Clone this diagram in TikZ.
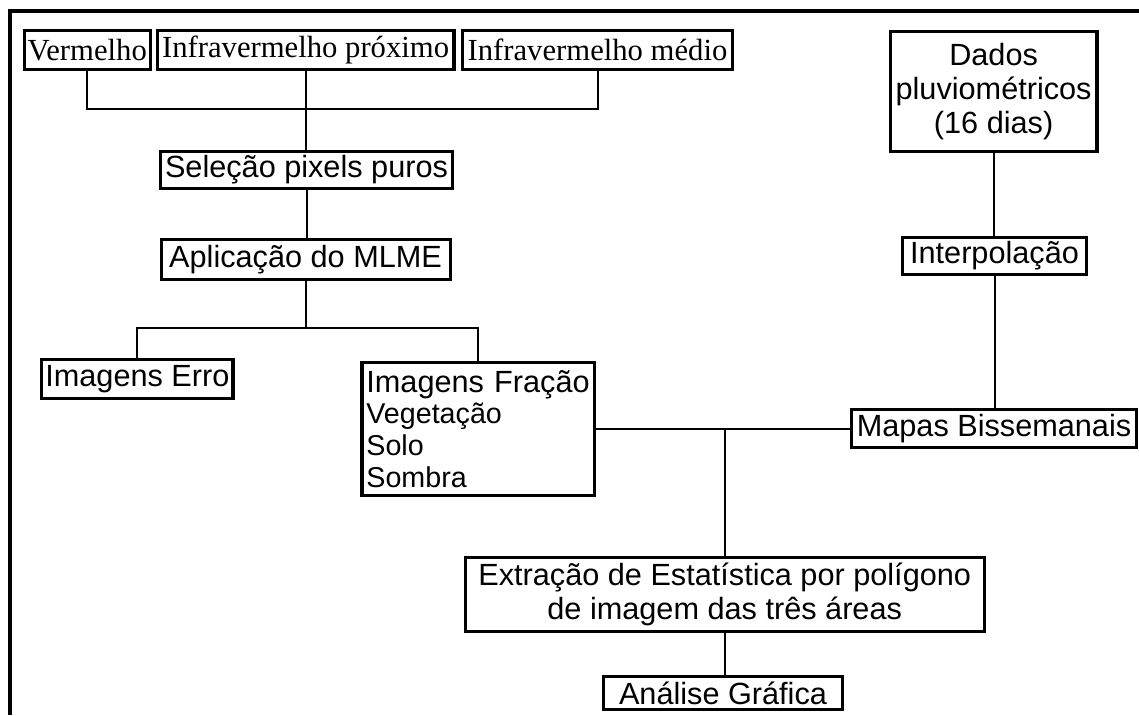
\documentclass[tikz,border=0pt]{standalone}
\usepackage{fontspec}
\setmainfont{Liberation Serif}
\setsansfont{Liberation Sans}
\begin{document}
\begin{tikzpicture}[x=0.75pt,y=-0.75pt,
  box/.style={draw, line width=2.4pt, inner sep=0pt, align=center,
    font=\sffamily\fontsize{23}{25.5}\selectfont},
  sbox/.style={box, font=\rmfamily\fontsize{23}{25}\selectfont},
  link/.style={line width=1.5pt},
  frame/.style={line width=3pt}]
\useasboundingbox (0,0) rectangle (1139,715);

% outer frame
\draw[frame] (10,715) -- (10,11.3) -- (1139,11.3);

% top row
\node[sbox, minimum width=94.5pt, minimum height=29.25pt] (verm) at (87.2,50) {Vermelho};
\node[sbox, minimum width=222.5pt, minimum height=29.25pt] (infp) at (305.6,50) {Infravermelho próximo};
\node[sbox, minimum width=202.5pt, minimum height=29.25pt] (infm) at (597.5,50) {Infravermelho médio};

% left chain
\node[box, minimum width=219.4pt, minimum height=27.75pt] (sel) at (306.5,170) {Seleção pixels puros};
\node[box, minimum width=216.75pt, minimum height=30pt] (apl) at (305.6,259.5) {Aplicação do MLME};
\node[box, minimum width=143.5pt, minimum height=29.25pt] (erro) at (137.4,379) {Imagens Erro};
\node[box, minimum width=174.6pt, minimum height=99.75pt, text width=168pt, align=left,
  font=\sffamily\fontsize{23}{23.8}\selectfont] (frac) at (478.4,429)
  {Imagens Fração\\\fontsize{21.5}{23.8}\selectfont Vegetação\\Solo\\Sombra};

% right chain
\node[box, minimum width=155pt, minimum height=90pt, font=\sffamily\fontsize{23}{25.2}\selectfont] (dados) at (993.6,91.5) {Dados\\pluviométricos\\(16 dias)};
\node[box, minimum width=138.2pt, minimum height=27.75pt] (interp) at (994.5,256) {Interpolação};
\node[box, minimum width=213.5pt, minimum height=28.5pt] (mapas) at (994,428.5) {Mapas Bissemanais};

% bottom
\node[box, minimum width=389.2pt, minimum height=55.5pt, font=\sffamily\fontsize{23}{25.7}\selectfont] (extr) at (724.7,594.5) {Extração de Estatística por polígono\\de imagem das três áreas};
\node[box, minimum width=179.25pt, minimum height=24.75pt] (anal) at (723,693) {Análise Gráfica};

% connectors
\coordinate (b1) at (305.6,109);
\draw[link] (verm.south) |- (b1) -| (infm.south);
\draw[link] (infp.south) -- (infp.south |- sel.north);
\draw[link] (sel.south) -- (sel.south |- apl.north);
\coordinate (b2) at (305.6,328);
\draw[link] (apl.south) -- (b2);
\draw[link] (erro.north) |- (b2) -| (frac.north);
\draw[link] (dados.south) -- (dados.south |- interp.north);
\draw[link] (interp.south) -- (interp.south |- mapas.north);
\draw[link] (frac.east |- mapas.west) -- (mapas.west);
\coordinate (j) at (extr.north |- mapas.west);
\draw[link] (j) -- (extr.north);
\draw[link] (extr.south) -- (extr.south |- anal.north);
\end{tikzpicture}
\end{document}
